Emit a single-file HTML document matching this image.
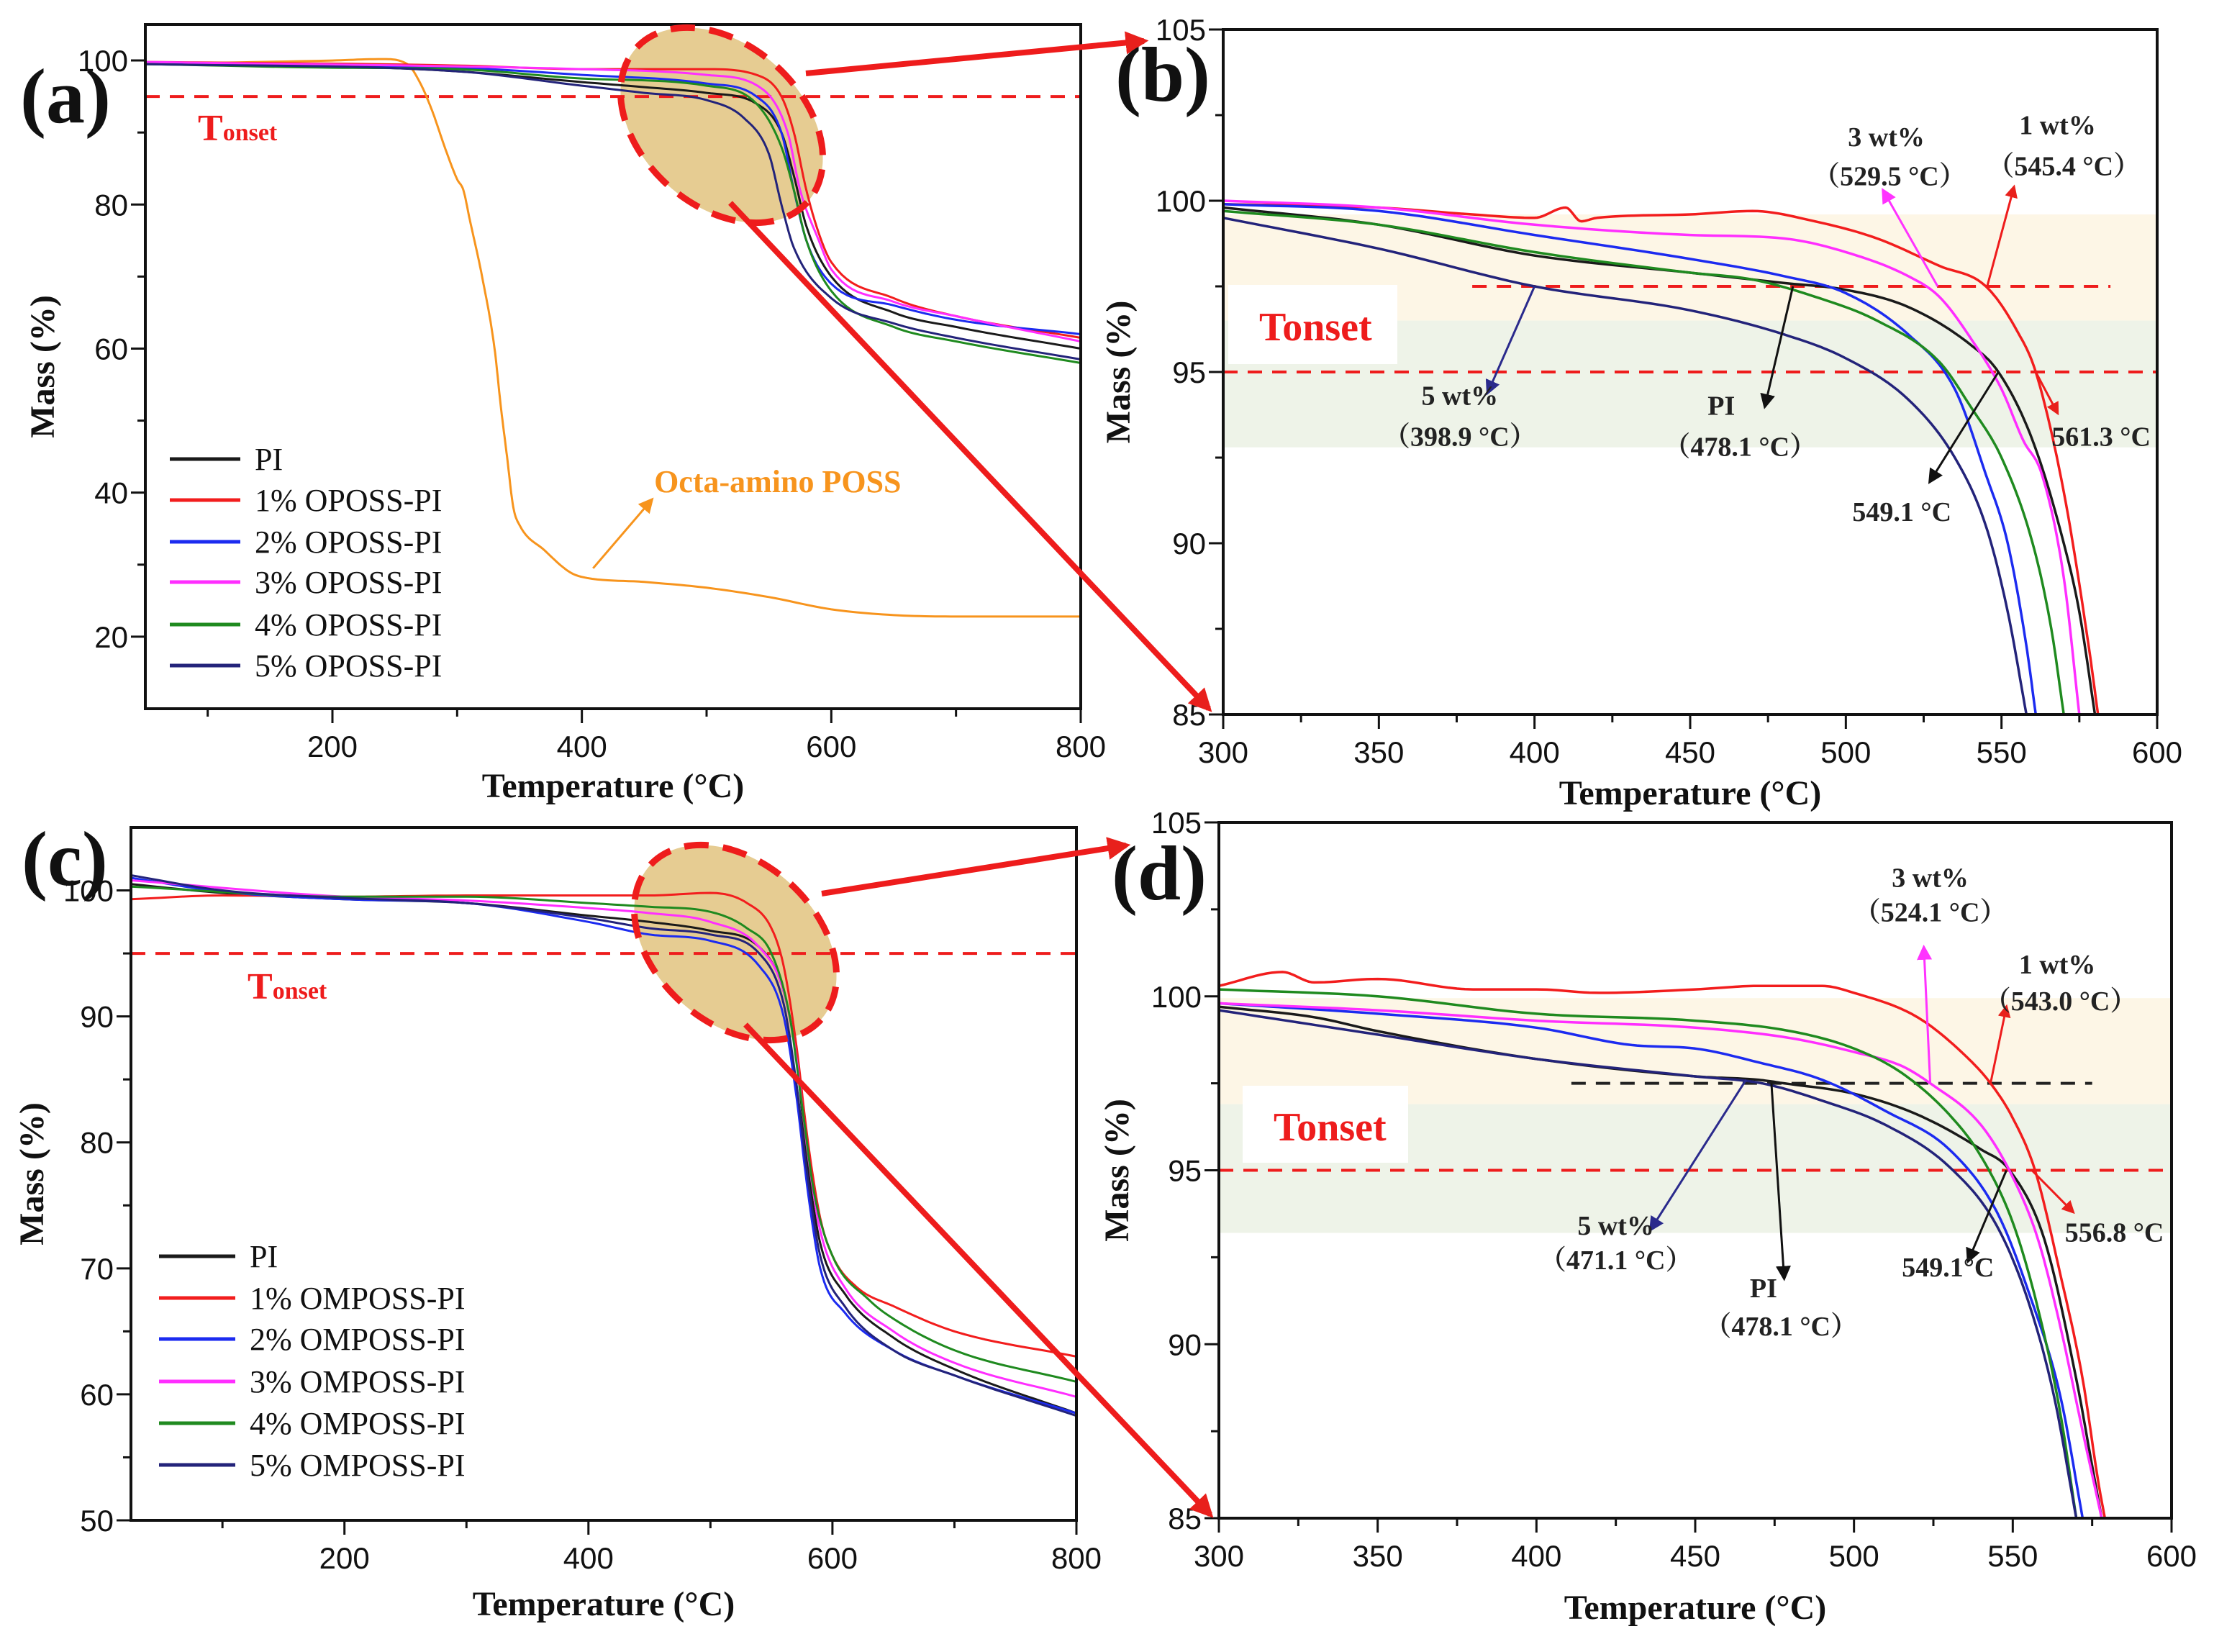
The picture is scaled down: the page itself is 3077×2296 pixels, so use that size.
<!DOCTYPE html>
<html><head><meta charset="utf-8">
<style>
html,body{margin:0;padding:0;background:#fff;}
svg{display:block;}
text{font-family:"Liberation Serif","Noto Serif CJK SC",serif;}
.tick{font-family:"Liberation Sans",sans-serif;font-size:42px;fill:#111;}
.ttl{font-weight:bold;font-size:48px;fill:#111;}
.ann{font-weight:bold;font-size:38px;fill:#222;}
.leg{font-size:44px;fill:#111;}
</style></head>
<body>
<svg id="fig" xmlns="http://www.w3.org/2000/svg" width="3077" height="2296" viewBox="0 0 3077 2296">
<rect width="3077" height="2296" fill="#fff"/>
<defs>
<marker id="ahR" viewBox="0 0 10 10" refX="8" refY="5" markerWidth="6" markerHeight="6" orient="auto"><path d="M0,0 L10,5 L0,10 z" fill="#e8201c"/></marker>
<marker id="ahBig" viewBox="0 0 10 10" refX="8" refY="5" markerWidth="4" markerHeight="4" orient="auto"><path d="M0,0 L10,5 L0,10 z" fill="#e8201c"/></marker>
<marker id="ahK" viewBox="0 0 10 10" refX="8" refY="5" markerWidth="7" markerHeight="7" orient="auto"><path d="M0,0 L10,5 L0,10 z" fill="#111"/></marker>
<marker id="ahN" viewBox="0 0 10 10" refX="8" refY="5" markerWidth="7" markerHeight="7" orient="auto"><path d="M0,0 L10,5 L0,10 z" fill="#2a2a8c"/></marker>
<marker id="ahM" viewBox="0 0 10 10" refX="8" refY="5" markerWidth="7" markerHeight="7" orient="auto"><path d="M0,0 L10,5 L0,10 z" fill="#ff33ff"/></marker>
<marker id="ahO" viewBox="0 0 10 10" refX="8" refY="5" markerWidth="7" markerHeight="7" orient="auto"><path d="M0,0 L10,5 L0,10 z" fill="#f7941d"/></marker>
</defs>
</svg>
<script>
// ---------- Panel (a) data: OPOSS-PI full range ----------
const aPI_T=[50,200,300,400,450,500,540,560,570,580,600,650,700,800];
const aPI_M=[99.5,99.2,98.5,97,96.3,95.5,94,90,84,77,70,65,63,60];
const a1_T=[50,300,400,500,540,560,570,580,590,600,650,700,800];
const a1_M=[99.8,99.3,98.8,98.8,98,95,90,82,76,72,67,64.5,61.5];
const a2_T=[50,300,400,500,540,560,570,580,600,650,700,800];
const a2_M=[99.6,99,98,96.8,95,90,82,75,69,66,64,62];
const a3_T=[50,400,500,545,565,575,590,600,650,700,800];
const a3_M=[99.8,98.8,98,96,90,82,75,71,66.5,64.5,61];
const a4_T=[50,200,300,400,500,540,560,570,580,600,650,700,800];
const a4_M=[99.5,99,98.8,97.5,96.5,94,88,82,75,68,63,61,58];
const a5_T=[50,300,400,450,500,530,550,560,570,600,650,700,800];
const a5_M=[99.5,98.5,96.5,95.5,94.5,92,87,80,74,67,63.5,61.5,58.5];
const aPOSS_T=[50,200,240,260,270,280,290,300,305,310,320,330,335,340,345,350,370,390,400,450,500,550,600,650,700,800];
const aPOSS_M=[99.5,100,100.2,99.5,97,93,88,83.5,82,78,70,60,52,45,38,35.5,32,29,28.3,27.6,26.8,25.5,23.8,23,22.8,22.8];
const aXTicks=[200,400,600,800];
const aYTicks=[20,40,60,80,100];
// ---------- Panel (b) data: zoom 300-600 ----------
const bPI_T=[300,350,400,450,480,500,520,540,549,560,570,575,580];
const bPI_M=[99.8,99.3,98.4,97.9,97.6,97.4,96.9,95.8,95,93,90,88,85];
const b1_T=[300,350,380,400,410,415,420,450,470,490,510,530,545,555,561,570,578,581];
const b1_M=[99.9,99.8,99.6,99.5,99.8,99.4,99.5,99.6,99.7,99.4,98.9,98.1,97.5,96.2,95,91.5,87,85];
const b2_T=[300,350,400,450,480,500,520,535,545,552,558,561];
const b2_M=[99.9,99.7,99,98.3,97.8,97.3,96.1,94.5,92,90,87,85];
const b3_T=[300,350,400,450,480,500,520,530,540,550,557,563,570,575];
const b3_M=[100,99.8,99.3,99,98.9,98.5,97.8,97.2,96,94.5,93,92,89,85];
const b4_T=[300,350,400,450,470,490,510,530,540,550,560,566,570];
const b4_M=[99.7,99.3,98.5,97.9,97.7,97.2,96.5,95.3,94,92.5,90,87.5,85];
const b5_T=[300,350,400,450,480,500,520,535,545,552,558];
const b5_M=[99.5,98.6,97.5,96.8,96.1,95.4,94.2,92.5,90.5,88,85];
const bXTicks=[300,350,400,450,500,550,600];
const bYTicks=[85,90,95,100,105];
// ---------- Panel (c) data: OMPOSS-PI full range ----------
const cPI_T=[25,100,200,300,400,450,500,540,560,570,580,590,610,650,700,800];
const cPI_M=[100.5,99.8,99.3,99,98,97.5,96.8,95.5,92,87,78,72,68,64.5,62,58.5];
const c1_T=[25,100,200,300,400,450,500,530,550,560,570,580,590,600,620,650,700,800];
const c1_M=[99.3,99.6,99.5,99.6,99.6,99.6,99.8,99,97,94,88,80,74,71,68.5,67,65,63];
const c2_T=[25,100,200,300,400,450,500,540,560,570,580,590,610,650,700,800];
const c2_M=[101,99.9,99.3,99,97.5,96.5,96,94,90,84,76,70,66.5,63.5,61.5,58.5];
const c3_T=[25,200,300,400,450,500,540,560,570,580,590,610,650,700,800];
const c3_M=[100.8,99.5,99.2,98.6,98.2,97.5,95.5,92,87,79,73,68.5,65,62.5,59.8];
const c4_T=[25,200,300,400,450,500,530,550,565,575,585,600,630,650,700,800];
const c4_M=[100.3,99.5,99.5,99,98.7,98.3,97,95,90,83,76,71,67.5,66,63.5,61];
const c5_T=[25,100,200,300,400,450,500,540,560,570,580,590,610,650,700,800];
const c5_M=[101.2,100,99.4,99,97.8,97,96.5,95,91,85,77,71,67,63.5,61.5,58.3];
const cXTicks=[200,400,600,800];
const cYTicks=[50,60,70,80,90,100];
// ---------- Panel (d) data: zoom 300-600 ----------
const dPI_T=[300,330,350,400,450,470,478,500,520,540,549,560,570,575,578];
const dPI_M=[99.7,99.4,99,98.2,97.7,97.6,97.5,97.2,96.6,95.6,95,93,89,86.5,85];
const d1_T=[300,320,330,350,380,400,420,450,470,490,500,520,535,543,550,557,565,572,577,579];
const d1_M=[100.3,100.7,100.4,100.5,100.2,100.2,100.1,100.2,100.3,100.3,100.1,99.4,98.3,97.5,96.5,95,92,89,86,85];
const d2_T=[300,350,400,430,450,470,490,510,530,545,555,565,572];
const d2_M=[99.8,99.5,99.1,98.6,98.5,98.1,97.6,96.7,95.6,93.8,91.5,88.5,85];
const d3_T=[300,350,400,450,480,500,515,524,540,550,558,565,572,578];
const d3_M=[99.8,99.6,99.3,99.1,98.8,98.4,98,97.5,96.3,94.8,93,90.5,87.5,85];
const d4_T=[300,350,400,450,480,500,515,530,540,550,558,565,570];
const d4_M=[100.2,100,99.5,99.3,99,98.5,97.8,96.6,95.4,93.5,91,88,85];
const d5_T=[300,350,400,450,471,490,510,530,545,555,563,570];
const d5_M=[99.6,98.9,98.2,97.7,97.5,97,96.3,95.1,93.4,91.2,88.5,85];
const dXTicks=[300,350,400,450,500,550,600];
const dYTicks=[85,90,95,100,105];

const legendA=["PI","1% OPOSS-PI","2% OPOSS-PI","3% OPOSS-PI","4% OPOSS-PI","5% OPOSS-PI"];
const legendC=["PI","1% OMPOSS-PI","2% OMPOSS-PI","3% OMPOSS-PI","4% OMPOSS-PI","5% OMPOSS-PI"];
const COLORS=["#1a1a1a","#f21d1d","#1c2bf0","#ff2eff","#1f8a1f","#23237a"];

const NS="http://www.w3.org/2000/svg";
const svg=document.getElementById('fig');
function el(tag,attrs,parent,txt){const e=document.createElementNS(NS,tag);for(const k in attrs)e.setAttribute(k,attrs[k]);if(txt!==undefined)e.textContent=txt;(parent||svg).appendChild(e);return e;}

function makePanel(name,box,xd,yd){
  const g=el('g',{});
  
  
  const sx=v=>box.l+(v-xd[0])/(xd[1]-xd[0])*(box.r-box.l);
  const sy=v=>box.b-(v-yd[0])/(yd[1]-yd[0])*(box.b-box.t);
  return {g,sx,sy,box};
}
function drawAxes(P,xt,yt,xminor,yminor,xTitle,yTitle,titleY,yTitleX){
  const {g,sx,sy,box}=P;
  const frame=el('rect',{x:box.l,y:box.t,width:box.r-box.l,height:box.b-box.t,fill:'none',stroke:'#111','stroke-width':4},g);
  
  
  xminor.forEach(v=>el('line',{x1:sx(v),x2:sx(v),y1:box.b,y2:box.b+11,stroke:'#111','stroke-width':3},g));
  yminor.forEach(v=>el('line',{y1:sy(v),y2:sy(v),x1:box.l,x2:box.l-11,stroke:'#111','stroke-width':3},g));
  xt.forEach(v=>{
    el('line',{x1:sx(v),x2:sx(v),y1:box.b,y2:box.b+20,stroke:'#111','stroke-width':3},g);
    const t=el('text',{x:sx(v),y:box.b+67,'text-anchor':'middle',class:'tick'},g,String(v));
    
    
  });
  yt.forEach(v=>{
    el('line',{y1:sy(v),y2:sy(v),x1:box.l,x2:box.l-20,stroke:'#111','stroke-width':3},g);
    const t=el('text',{x:box.l-24,y:sy(v)+15,'text-anchor':'end',class:'tick'},g,String(v));
    
    
  });
  const xtl=el('text',{x:(box.l+box.r)/2,y:titleY,'text-anchor':'middle',class:'ttl'},g,xTitle);
  
  
  const cy=(box.t+box.b)/2;
  const ytl=el('text',{x:yTitleX,y:cy,'text-anchor':'middle',class:'ttl',transform:`rotate(-90 ${yTitleX} ${cy})`},g,yTitle);
  
  
}
// monotone cubic interpolation (Fritsch-Carlson) for smooth curves
function smooth(T,M){
  const n=T.length,d=[],m=new Array(n);
  for(let i=0;i<n-1;i++)d.push((M[i+1]-M[i])/(T[i+1]-T[i]));
  m[0]=d[0];m[n-1]=d[n-2];
  for(let i=1;i<n-1;i++){m[i]=(d[i-1]*d[i]<=0)?0:(d[i-1]+d[i])/2;}
  for(let i=0;i<n-1;i++){
    if(d[i]===0){m[i]=0;m[i+1]=0;continue;}
    const a=m[i]/d[i],b=m[i+1]/d[i],s=a*a+b*b;
    if(s>9){const t=3/Math.sqrt(s);m[i]=t*a*d[i];m[i+1]=t*b*d[i];}
  }
  const out=[];
  for(let i=0;i<n-1;i++){
    const h=T[i+1]-T[i],steps=12;
    for(let k=0;k<steps;k++){
      const t=k/steps,t2=t*t,t3=t2*t;
      const y=(2*t3-3*t2+1)*M[i]+(t3-2*t2+t)*h*m[i]+(-2*t3+3*t2)*M[i+1]+(t3-t2)*h*m[i+1];
      out.push([T[i]+t*h,y]);
    }
  }
  out.push([T[n-1],M[n-1]]);
  return out;
}
function series(P,T,M,color,name,w,ymin){
  const pts=smooth(T,M).map(p=>P.sx(p[0]).toFixed(1)+','+P.sy(Math.max(p[1],ymin)).toFixed(1));
  const p=el('polyline',{points:pts.join(' '),fill:'none',stroke:color,'stroke-width':w,'stroke-linejoin':'round'},P.g);
  
  
}
function range(a,b,s){const r=[];for(let v=a;v<=b+1e-9;v+=s)r.push(v);return r;}
function legend(P,labels,x0,x1,ys){
  labels.forEach((lb,i)=>{
    const g=el('g',{},P.g);
    
    
    el('line',{x1:x0,x2:x1,y1:ys[i],y2:ys[i],stroke:COLORS[i],'stroke-width':5},g);
    el('text',{x:x1+20,y:ys[i]+15,class:'leg'},g,lb);
  });
}
function hdash(P,v,x0,x1,color,w){
  const l=el('line',{x1:P.sx(x0),x2:P.sx(x1),y1:P.sy(v),y2:P.sy(v),stroke:color,'stroke-width':w,'stroke-dasharray':'20 14'},P.g);
  
  
}
function arrow(P,x0,y0,x1,y1,color,marker,name){
  const l=el('line',{x1:P.sx(x0),y1:P.sy(y0),x2:P.sx(x1),y2:P.sy(y1),stroke:color,'stroke-width':3,'marker-end':`url(#${marker})`},P.g);
  
  
}
function label(P,x,y,txt,name,style){
  const t=el('text',{x:P.sx(x),y:P.sy(y),'text-anchor':'middle','dominant-baseline':'central',class:'ann'},P.g,txt);
  if(style)t.setAttribute('style',style);
  
  
  return t;
}
function tonsetText(x,y,name){
  const t=el('text',{x:x,y:y,fill:'#ee1c1c','font-weight':'bold','font-size':52},svg);
  
  
  el('tspan',{},t,'T');
  el('tspan',{'font-size':34},t,'onset');
}
function ellipseFill(cx,cy,rx,ry,rot,name){
  const e=el('ellipse',{cx,cy,rx,ry,transform:`rotate(${rot} ${cx} ${cy})`,fill:'#e6cc92'});
  
  
}
function ellipseStroke(cx,cy,rx,ry,rot,name){
  const e=el('ellipse',{cx,cy,rx,ry,transform:`rotate(${rot} ${cx} ${cy})`,fill:'none',stroke:'#ee1c1c','stroke-width':9,'stroke-dasharray':'34 20'});
  
  
}
function bigArrow(x0,y0,x1,y1,name){
  const l=el('line',{x1:x0,y1:y0,x2:x1,y2:y1,stroke:'#ee1c1c','stroke-width':8,'marker-end':'url(#ahBig)'});
  
  
}
function panelLabel(x,y,txt,name){
  const t=el('text',{x,y,'font-weight':'bold','font-size':108,fill:'#111'},svg,txt);
  
  
}
function tonsetBox(P,x,y,w,h,tx,ty){
  const r=el('rect',{x,y,width:w,height:h,fill:'#fff'},P.g);
  
  
  const t=el('text',{x:tx,y:ty,fill:'#ee1c1c','font-weight':'bold','font-size':56},P.g,'Tonset');
  
  
}
function bands(P,b1,b2,b3){
  const r1=el('rect',{x:P.box.l+2,y:P.sy(b1),width:P.box.r-P.box.l-4,height:P.sy(b2)-P.sy(b1),fill:'#fdf6e6'},P.g);
  
  
  const r2=el('rect',{x:P.box.l+2,y:P.sy(b2),width:P.box.r-P.box.l-4,height:P.sy(b3)-P.sy(b2),fill:'#eef3e8'},P.g);
  
  
}

// ellipse fills behind curves
ellipseFill(1003,174,160,112,42,'zoom-region-ellipse-a-fill');
ellipseFill(1022,1310,160,112,42,'zoom-region-ellipse-c-fill');

// ===== Panel (a) =====
const A=makePanel('panel-a-oposs-tga',{l:202,r:1502,t:34,b:985},[50,800],[10,105]);
hdash(A,95,50,800,'#ee1c1c',4);
series(A,aPOSS_T,aPOSS_M,'#f7941d','octa-amino-poss-curve',3,10);
const aSer=[[aPI_T,aPI_M],[a1_T,a1_M],[a2_T,a2_M],[a3_T,a3_M],[a4_T,a4_M],[a5_T,a5_M]];
aSer.forEach((s,i)=>series(A,s[0],s[1],COLORS[i],'a-series-'+i,3,10));
drawAxes(A,aXTicks,aYTicks,range(100,700,200),range(30,90,20),'Temperature (°C)','Mass (%)',1108,75);
legend(A,legendA,236,334,[638,695,753,809,868,925]);
label(A,557,41.5,'Octa-amino POSS','octa-amino-poss-label','fill:#f7941d;font-size:44px');
arrow(A,409,29.5,456,39,'#f7941d','ahO','poss-annotation-arrow');

// ===== Panel (b) =====
const B=makePanel('panel-b-oposs-zoom',{l:1700,r:2998,t:41,b:993},[300,600],[85,105]);
bands(B,99.6,96.5,92.8);
tonsetBox(B,1707,396,235,110,1750,473);
hdash(B,97.5,380,585,'#ee1c1c',4);
hdash(B,95,300,600,'#ee1c1c',4);
const bSer=[[bPI_T,bPI_M],[b1_T,b1_M],[b2_T,b2_M],[b3_T,b3_M],[b4_T,b4_M],[b5_T,b5_M]];
bSer.forEach((s,i)=>series(B,s[0],s[1],COLORS[i],'b-series-'+i,3.5,85));
drawAxes(B,bXTicks,bYTicks,range(325,575,50),range(87.5,102.5,5),'Temperature (°C)','Mass (%)',1118,1570);
arrow(B,400,97.5,385,94.4,'#2a2a8c','ahN','arrow-5wt');
arrow(B,483,97.5,474,94,'#111','ahK','arrow-pi');
arrow(B,529.5,97.5,512,100.3,'#ff33ff','ahM','arrow-3wt');
arrow(B,545.4,97.5,554,100.4,'#ee1c1c','ahR','arrow-1wt');
arrow(B,561,95,568,93.8,'#ee1c1c','ahR','arrow-561');
arrow(B,549,95,527,91.8,'#111','ahK','arrow-549');
label(B,513,101.85,'3 wt%','label-3wt');
label(B,514,100.7,'（529.5 °C）','label-3wt-temp');
label(B,568,102.2,'1 wt%','label-1wt');
label(B,570,101.0,'（545.4 °C）','label-1wt-temp');
label(B,376,94.3,'5 wt%','label-5wt');
label(B,376,93.1,'（398.9 °C）','label-5wt-temp');
label(B,460,94.0,'PI','label-pi');
label(B,466,92.8,'（478.1 °C）','label-pi-temp');
label(B,518,90.9,'549.1 °C','label-549');
label(B,582,93.1,'561.3 °C','label-561');

// ===== Panel (c) =====
const C=makePanel('panel-c-omposs-tga',{l:182,r:1496,t:1150,b:2113},[25,800],[50,105]);
hdash(C,95,25,800,'#ee1c1c',4);
const cSer=[[cPI_T,cPI_M],[c1_T,c1_M],[c2_T,c2_M],[c3_T,c3_M],[c4_T,c4_M],[c5_T,c5_M]];
cSer.forEach((s,i)=>series(C,s[0],s[1],COLORS[i],'c-series-'+i,3,50));
drawAxes(C,cXTicks,cYTicks,range(100,700,200),range(55,95,10),'Temperature (°C)','Mass (%)',2245,60);
legend(C,legendC,221,327,[1746,1804,1861,1920,1978,2036]);

// ===== Panel (d) =====
const D=makePanel('panel-d-omposs-zoom',{l:1694,r:3018,t:1143,b:2110},[300,600],[85,105]);
bands(D,99.95,96.9,93.2);
tonsetBox(D,1727,1509,230,107,1770,1585);
hdash(D,97.5,411,575,'#222',4);
hdash(D,95,300,600,'#ee1c1c',4);
const dSer=[[dPI_T,dPI_M],[d1_T,d1_M],[d2_T,d2_M],[d3_T,d3_M],[d4_T,d4_M],[d5_T,d5_M]];
dSer.forEach((s,i)=>series(D,s[0],s[1],COLORS[i],'d-series-'+i,3.5,85));
drawAxes(D,dXTicks,dYTicks,range(325,575,50),range(87.5,102.5,5),'Temperature (°C)','Mass (%)',2250,1568);
arrow(D,466,97.6,436,93.3,'#2a2a8c','ahN','arrow-5wt');
arrow(D,474,97.5,478,91.9,'#111','ahK','arrow-pi');
arrow(D,524,97.5,522,101.4,'#ff33ff','ahM','arrow-3wt');
arrow(D,543,97.5,548,99.7,'#ee1c1c','ahR','arrow-1wt');
arrow(D,556,95,569,93.8,'#ee1c1c','ahR','arrow-556');
arrow(D,548,95,536,92.4,'#111','ahK','arrow-549');
label(D,524,103.4,'3 wt%','label-3wt');
label(D,524,102.4,'（524.1 °C）','label-3wt-temp');
label(D,564,100.9,'1 wt%','label-1wt');
label(D,565,99.85,'（543.0 °C）','label-1wt-temp');
label(D,425,93.4,'5 wt%','label-5wt');
label(D,425,92.4,'（471.1 °C）','label-5wt-temp');
label(D,471.5,91.6,'PI','label-pi');
label(D,477,90.5,'（478.1 °C）','label-pi-temp');
label(D,529.6,92.2,'549.1°C','label-549');
label(D,582,93.2,'556.8 °C','label-556');

// overlays: ellipse outlines, big arrows, Tonset, panel labels
ellipseStroke(1003,174,160,112,42,'zoom-region-ellipse-a');
ellipseStroke(1022,1310,160,112,42,'zoom-region-ellipse-c');
bigArrow(1120,102,1590,57,'zoom-arrow-a-top');
bigArrow(1015,282,1680,985,'zoom-arrow-a-bottom');
bigArrow(1142,1242,1565,1175,'zoom-arrow-c-top');
bigArrow(1036,1424,1682,2105,'zoom-arrow-c-bottom');
tonsetText(275,195,'tonset-label-a');
tonsetText(344,1388,'tonset-label-c');
panelLabel(28,170,'(a)','panel-label-a');
panelLabel(1550,140,'(b)','panel-label-b');
panelLabel(30,1230,'(c)','panel-label-c');
panelLabel(1545,1250,'(d)','panel-label-d');
</script>
</body></html>
